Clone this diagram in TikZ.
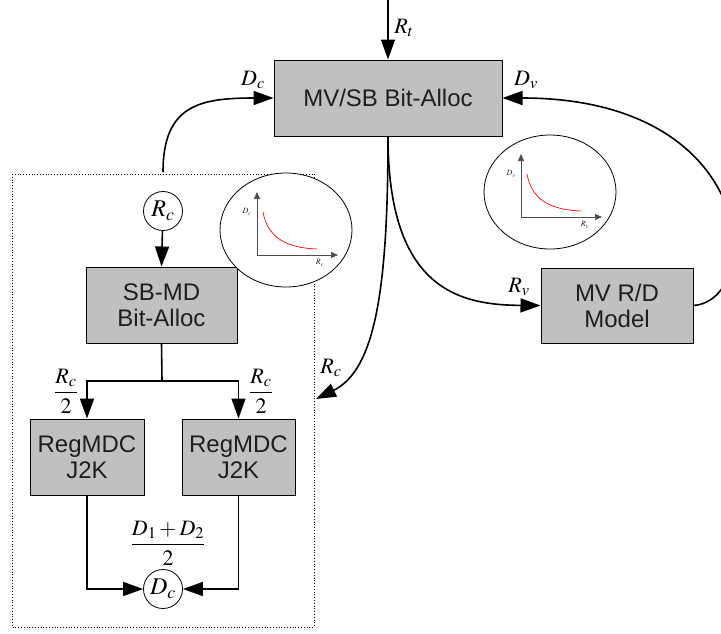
\documentclass[tikz,border=0pt]{standalone}
\usepackage{mathptmx}
\usepackage{fontspec}
\setmainfont{Liberation Sans}
\usetikzlibrary{arrows.meta}
\definecolor{boxgray}{RGB}{192,192,192}
\definecolor{txtgray}{RGB}{30,30,30}
\tikzset{
  blk/.style={draw, fill=boxgray, line width=1pt, align=center, inner sep=0pt,
    text=txtgray, font=\fontsize{24}{26}\selectfont},
  circ/.style={draw, circle, fill=white, line width=0.8pt, minimum size=39pt, inner sep=0pt,
    font=\fontsize{24}{26}\selectfont},
  arr/.style={line width=1.6pt, -{Triangle[length=20pt,width=14pt]}},
  plain/.style={line width=1.6pt},
  lbl/.style={font=\fontsize{22}{24}\selectfont, inner sep=0pt},
  tiny/.style={font=\fontsize{8}{9}\selectfont, inner sep=0pt, text=txtgray},
  bubble/.style={draw, fill=white, line width=0.8pt},
}
\begin{document}
\begin{tikzpicture}[x=1pt,y=-1pt]
\useasboundingbox (0,0) rectangle (721,633);

% dotted frame
\draw[dotted, line width=0.8pt] (12,174) rectangle (314,627);

% blocks
\node[blk, minimum width=228pt, minimum height=76pt] (mvsb) at (388,98) {MV/SB Bit-Alloc};
\node[blk, minimum width=151pt, minimum height=76pt] (sbmd) at (161.5,305) {SB-MD\\Bit-Alloc};
\node[blk, minimum width=114pt, minimum height=76pt] (regL) at (87,457) {RegMDC\\J2K};
\node[blk, minimum width=113pt, minimum height=76pt] (regR) at (238.5,457) {RegMDC\\J2K};
\node[blk, minimum width=152pt, minimum height=75pt] (mvrd) at (617,305.5) {MV R/D\\Model};

\node[circ] (rc) at (163,211) {$R_c$};
\node[circ] (dc) at (163,589) {$D_c$};

\coordinate (top) at (388,0);
\coordinate (dcstart) at (163,172);
\coordinate (rcend) at (316,399);
\coordinate (split) at (162,381);

% connectors
\draw[arr] (top) -- (mvsb.north);
\draw[arr] (dcstart) .. controls (163,105) and (200,98) .. (mvsb.west);
\draw[arr] (mvrd.east) .. controls (765,300) and (760,98) .. (mvsb.east);
\draw[arr] (mvsb.south) .. controls (388,290) and (460,305) .. (mvrd.west);
\draw[arr] (mvsb.south) .. controls (388,290) and (375,370) .. (rcend);
\draw[arr] (rc) -- (sbmd.north);
\draw[plain] (sbmd.south) -- (split);
\draw[arr] (split) -| (regL.north);
\draw[arr] (split) -| (regR.north);
\draw[arr] (regL.south) |- (dc.west);
\draw[arr] (regR.south) |- (dc.east);

% labels
\node[lbl] (lrt) at (404,28) {$R_t$};
\node[lbl] (ldc) at (253,80) {$D_c$};
\node[lbl] (ldv) at (526,80) {$D_v$};
\node[lbl] (lrv) at (519,287) {$R_v$};
\node[lbl] (lrc) at (331,368) {$R_c$};
\node[lbl] (lfl) at (66,391) {$\displaystyle\frac{R_c}{2}$};
\node[lbl] (lfr) at (261,391) {$\displaystyle\frac{R_c}{2}$};
\node[lbl] (lfd) at (168,543) {$\displaystyle\frac{D_1+D_2}{2}$};

% bubble plots
\draw[bubble] (286,230) ellipse [x radius=66pt, y radius=57pt];
\draw[gray!60!black, line width=0.7pt, -{Triangle[length=7pt,width=6pt]}] (257,255) -- (257,192);
\draw[gray!60!black, line width=0.7pt, -{Triangle[length=7pt,width=6pt]}] (257,255) -- (338,255);
\draw[red, line width=0.7pt] (263,212) .. controls (268,240) and (290,248) .. (317,249);
\node[tiny] (pdc) at (247,212) {$D_c$};
\node[tiny] (prc) at (320,263) {$R_c$};

\draw[bubble] (550,192) ellipse [x radius=66pt, y radius=57pt];
\draw[gray!60!black, line width=0.7pt, -{Triangle[length=7pt,width=6pt]}] (521,217) -- (521,154);
\draw[gray!60!black, line width=0.7pt, -{Triangle[length=7pt,width=6pt]}] (521,217) -- (602,217);
\draw[red, line width=0.7pt] (527,174) .. controls (532,202) and (554,210) .. (581,211);
\node[tiny] (pdv) at (511,174) {$D_v$};
\node[tiny] (prv) at (585,225) {$R_v$};
\end{tikzpicture}
\end{document}
